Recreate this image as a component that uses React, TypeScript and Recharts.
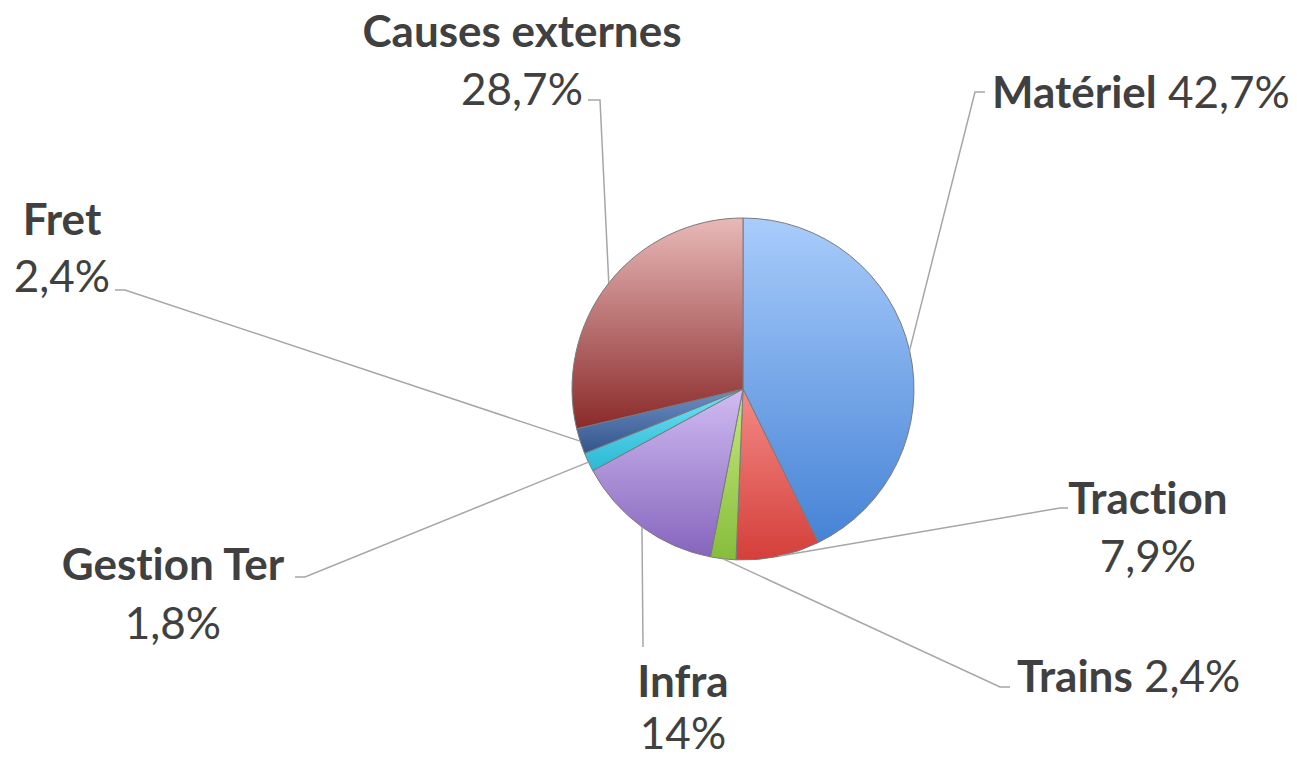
import React from "react";
import { PieChart, Pie, Cell } from "recharts";

const categories = ["Matériel", "Traction", "Trains", "Infra", "Gestion Ter", "Fret", "Causes externes"];
const shares = [42.7, 7.9, 2.4, 14, 1.8, 2.4, 28.7];

const data = categories.map((name, i) => ({ name, value: shares[i] }));

// top / bottom colours of each slice gradient
const gradients = [
  ["#a9ccfb", "#4683d6"],
  ["#f48a86", "#d43f3a"],
  ["#c6e880", "#86bd3c"],
  ["#d0bcf2", "#8665bd"],
  ["#6fe2f6", "#2bb8d4"],
  ["#6d8fc6", "#34558c"],
  ["#e8b9b8", "#8a2a2a"],
];

// label layout relative to the pie centre
type Layout = {
  elbow: [number, number];
  end?: number;
  x: number;
  ys: number[];
  anchor: "start" | "middle";
  inline?: boolean;
};
const layouts: Layout[] = [
  { elbow: [232, -297], end: 242, x: 249, ys: [-298], anchor: "start", inline: true },
  { elbow: [317, 119], end: 325, x: 405, ys: [108, 166], anchor: "middle" },
  { elbow: [257, 298], end: 267, x: 274, ys: [286], anchor: "start", inline: true },
  { elbow: [-100, 258], x: -60, ys: [291, 343], anchor: "middle" },
  { elbow: [-438, 188], end: -448, x: -570, ys: [174, 233], anchor: "middle" },
  { elbow: [-618, -99], end: -628, x: -681, ys: [-171, -114], anchor: "middle" },
  { elbow: [-143, -289], end: -155, x: -221, ys: [-359, -301], anchor: "middle" },
];

const RADIAN = Math.PI / 180;
const FONT = "Lato, 'Open Sans', sans-serif";
const SIZE = 44;
const TEXT = "#404040";
const noLig = { fontVariantLigatures: "none" as const };

const fmt = (v: number) => (Number.isInteger(v) ? String(v) : v.toFixed(1).replace(".", ",")) + "%";

const renderLabel = (props: any) => {
  const { cx, cy, midAngle, outerRadius, index } = props;
  const l = layouts[index];
  const sx = cx + outerRadius * Math.cos(-midAngle * RADIAN);
  const sy = cy + outerRadius * Math.sin(-midAngle * RADIAN);
  const ex = cx + l.elbow[0];
  const ey = cy + l.elbow[1];
  const pts = [`${sx},${sy}`, `${ex},${ey}`];
  if (l.end !== undefined) pts.push(`${cx + l.end},${ey}`);
  const name = categories[index];
  const val = fmt(shares[index]);
  return (
    <g key={`lbl-${index}`}>
      <polyline points={pts.join(" ")} fill="none" stroke="#a6a6a6" strokeWidth={1.5} />
      {l.inline ? (
        <text x={cx + l.x} y={cy + l.ys[0]} textAnchor={l.anchor} dominantBaseline="central"
          fontFamily={FONT} fontSize={SIZE} fill={TEXT} style={noLig}>
          <tspan fontWeight="bold">{name}</tspan>
          <tspan> {val}</tspan>
        </text>
      ) : (
        <>
          <text x={cx + l.x} y={cy + l.ys[0]} textAnchor={l.anchor} dominantBaseline="central"
            fontFamily={FONT} fontSize={SIZE} fontWeight="bold" fill={TEXT} style={noLig}>{name}</text>
          <text x={cx + l.x} y={cy + l.ys[1]} textAnchor={l.anchor} dominantBaseline="central"
            fontFamily={FONT} fontSize={SIZE} fill={TEXT} style={noLig}>{val}</text>
        </>
      )}
    </g>
  );
};

export default function App() {
  return (
    <div style={{ position: "absolute", left: 0, top: 0, background: "#fff" }}>
      <PieChart width={1297} height={758} margin={{ top: 0, right: 0, bottom: 0, left: 0 }}>
        <defs>
          {gradients.map(([a, b], i) => (
            <linearGradient key={i} id={`g${i}`} x1="0" y1="0" x2="0" y2="1">
              <stop offset="0%" stopColor={a} />
              <stop offset="100%" stopColor={b} />
            </linearGradient>
          ))}
        </defs>
        <Pie
          data={data}
          dataKey="value"
          nameKey="name"
          cx={743}
          cy={389}
          outerRadius={171}
          startAngle={90}
          endAngle={-270}
          stroke="#7a7a7a"
          strokeWidth={1}
          label={renderLabel}
          labelLine={false}
          isAnimationActive={false}
        >
          {data.map((d, i) => (
            <Cell key={d.name} fill={`url(#g${i})`} />
          ))}
        </Pie>
      </PieChart>
    </div>
  );
}
